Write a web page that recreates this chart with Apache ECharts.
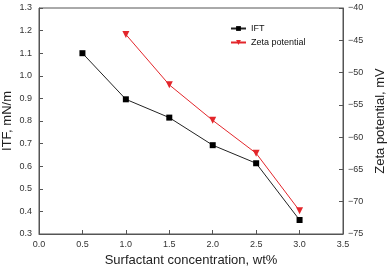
<!DOCTYPE html>
<html><head><meta charset="utf-8">
<script src="https://cdn.jsdelivr.net/npm/echarts@6/dist/echarts.min.js"></script>
<style>html,body{margin:0;padding:0;background:#fff}#c{width:388px;height:270px}</style>
</head><body><div id="c"></div>
<script>
const concentration = [0.5, 1.0, 1.5, 2.0, 2.5, 3.0];
const iftValues = [1.10, 0.896, 0.815, 0.693, 0.613, 0.362];
const zetaConc = [1.0, 1.5, 2.0, 2.5, 3.0];
const zetaValues = [-44.1, -51.9, -57.4, -62.5, -71.4];

const font = 'Liberation Sans, Arial, sans-serif';
const axisColor = '#555';
const labelColor = '#333';
const chart = echarts.init(document.getElementById('c'), null, {renderer:'canvas'});
chart.setOption({
  animation:false,
  textStyle:{fontFamily:font},
  grid:{left:39,right:45,top:8,bottom:36,show:true,borderColor:axisColor,borderWidth:1,containLabel:false,outerBoundsMode:'none'},
  legend:{
    orient:'vertical', left:225, top:19, itemGap:5, itemWidth:15, itemHeight:6,
    textStyle:{fontFamily:font,fontSize:9,color:'#111'},
    data:['IFT','Zeta potential']
  },
  xAxis:{
    type:'value', min:0, max:3.5, interval:0.5,
    name:'Surfactant concentration, wt%', nameLocation:'middle', nameGap:20, nameMoveOverlap:false,
    nameTextStyle:{fontFamily:font,fontSize:13,color:'#222'},
    axisLine:{onZero:false,lineStyle:{color:axisColor}},
    axisTick:{inside:true,length:4,lineStyle:{color:axisColor}},
    axisLabel:{fontFamily:font,fontSize:9,color:labelColor,margin:6,formatter:v=>v.toFixed(1)},
    splitLine:{show:false}
  },
  yAxis:[{
    type:'value', min:0.3, max:1.3, interval:0.1,
    name:'ITF, mN/m', nameLocation:'middle', nameGap:25, nameMoveOverlap:false,
    nameTextStyle:{fontFamily:font,fontSize:13,color:'#222'},
    axisLine:{show:true,lineStyle:{color:axisColor}},
    axisTick:{show:true,inside:true,length:4,lineStyle:{color:axisColor}},
    axisLabel:{fontFamily:font,fontSize:9,color:labelColor,margin:7,formatter:v=>v.toFixed(1)},
    splitLine:{show:false}
  },{
    type:'value', min:-75, max:-40, interval:5, position:'right',
    name:'Zeta potential, mV', nameLocation:'middle', nameGap:31, nameRotate:90, nameMoveOverlap:false,
    nameTextStyle:{fontFamily:font,fontSize:13,color:'#222'},
    axisLine:{show:true,lineStyle:{color:axisColor}},
    axisTick:{show:true,inside:true,length:4,lineStyle:{color:axisColor}},
    axisLabel:{fontFamily:font,fontSize:9,color:labelColor,margin:5,formatter:v=>String(v).replace('-','\u2212')},
    splitLine:{show:false}
  }],
  series:[{
    name:'IFT', type:'line', yAxisIndex:0,
    data:concentration.map((x,i)=>[x,iftValues[i]]),
    symbol:'rect', symbolSize:6,
    lineStyle:{color:'#222',width:1}, itemStyle:{color:'#000'}
  },{
    name:'Zeta potential', type:'line', yAxisIndex:1,
    data:zetaConc.map((x,i)=>[x,zetaValues[i]]),
    symbol:'triangle', symbolRotate:180, symbolSize:7,
    lineStyle:{color:'#e3262b',width:1}, itemStyle:{color:'#e3262b'}
  }]
});
</script></body></html>
